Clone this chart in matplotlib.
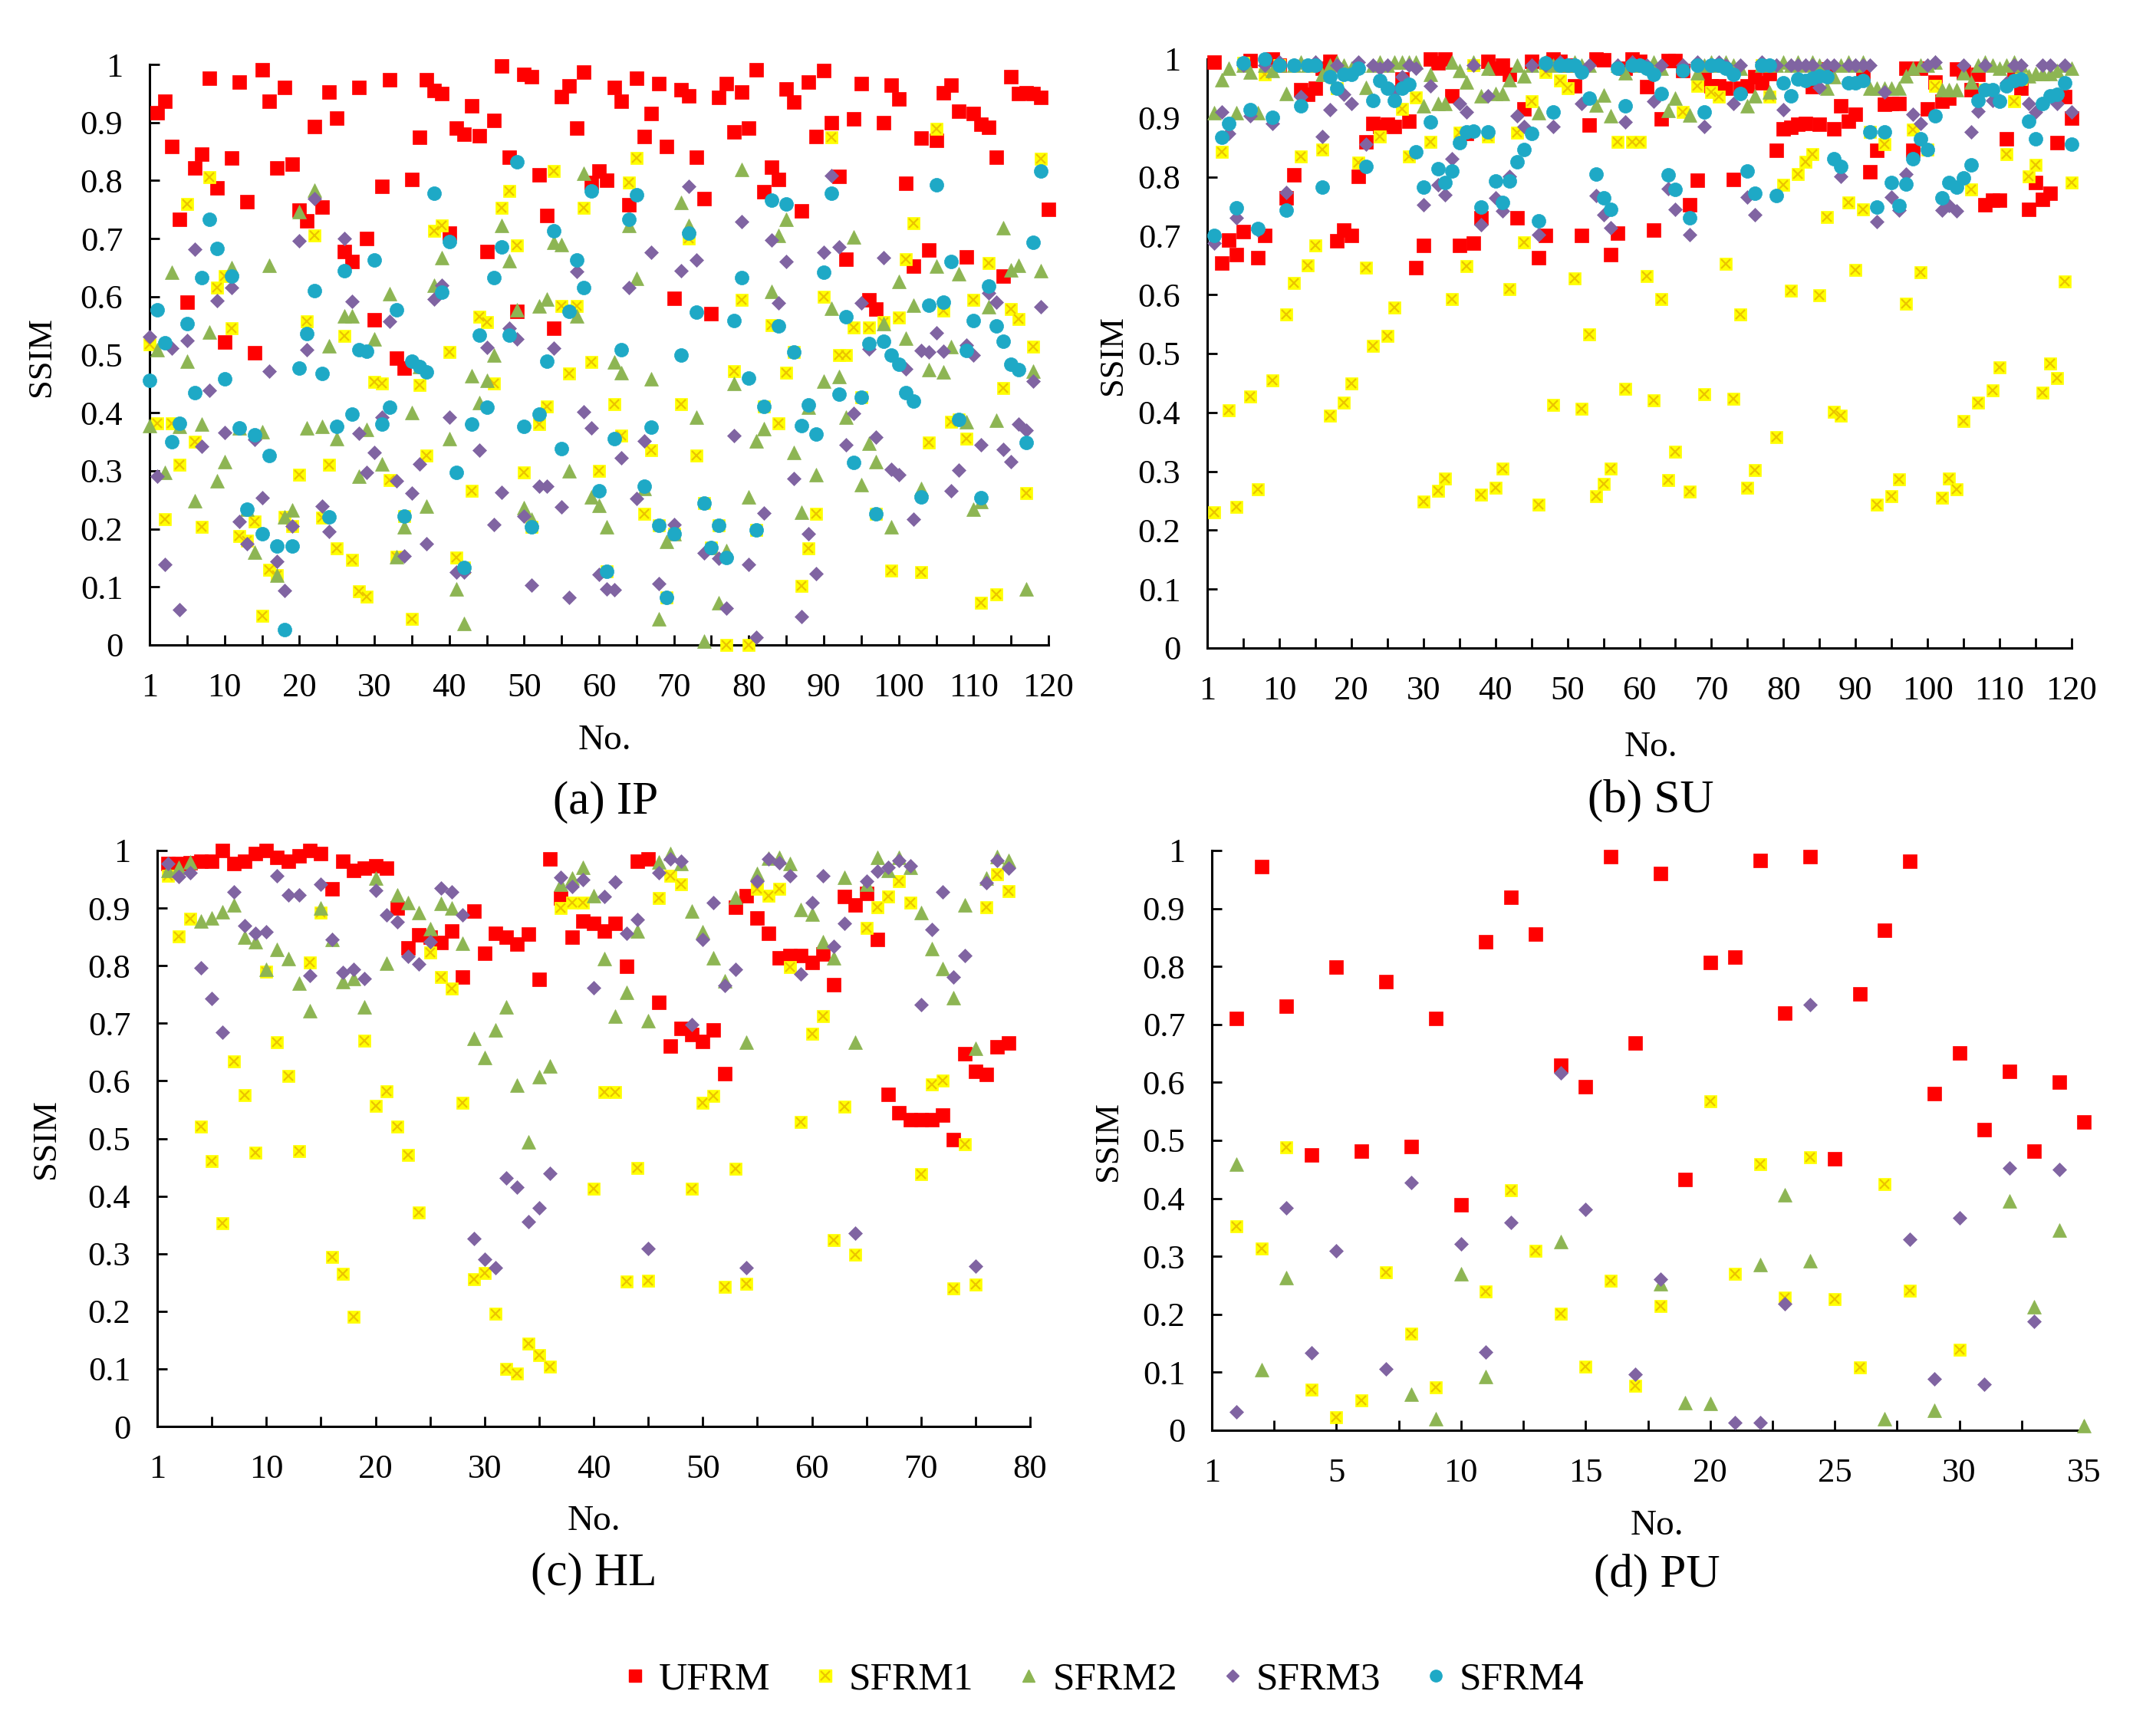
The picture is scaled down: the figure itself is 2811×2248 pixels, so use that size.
import numpy as np
import matplotlib
matplotlib.use("Agg")
import matplotlib.pyplot as plt
from matplotlib.lines import Line2D

plt.rcParams['font.family'] = 'serif'
plt.rcParams['font.serif'] = ['Liberation Serif', 'Times New Roman', 'DejaVu Serif']

series_names = ["UFRM", "SFRM1", "SFRM2", "SFRM3", "SFRM4"]
tick_labels_y = ["0", "0.1", "0.2", "0.3", "0.4", "0.5", "0.6", "0.7", "0.8", "0.9", "1"]

# ---------------- (a) IP ----------------
ip_ufrm_x = list(range(1, 121))
ip_sfrm_x = list(range(0, 120))
ip_ufrm = [0.917, 0.937, 0.858, 0.733, 0.59, 0.822, 0.845, 0.976, 0.787, 0.522,
           0.839, 0.97, 0.763, 0.503, 0.991, 0.937, 0.822, 0.96, 0.828, 0.749,
           0.73, 0.893, 0.754, 0.953, 0.908, 0.678, 0.66, 0.96, 0.70, 0.56,
           0.79, 0.974, 0.494, 0.477, 0.802, 0.875, 0.974, 0.955, 0.95, 0.71,
           0.891, 0.88, 0.929, 0.877, 0.678, 0.904, 0.997, 0.84, 0.575, 0.983,
           0.979, 0.81, 0.74, 0.546, 0.945, 0.963, 0.89, 0.987, 0.796, 0.816,
           0.80, 0.96, 0.937, 0.758, 0.976, 0.876, 0.915, 0.967, 0.858, 0.597,
           0.956, 0.946, 0.84, 0.769, 0.571, 0.943, 0.967, 0.884, 0.953, 0.891,
           0.991, 0.781, 0.823, 0.802, 0.958, 0.935, 0.748, 0.97, 0.876, 0.99,
           0.90, 0.807, 0.665, 0.906, 0.967, 0.595, 0.578, 0.90, 0.964, 0.941,
           0.795, 0.653, 0.873, 0.68, 0.869, 0.951, 0.964, 0.92, 0.668, 0.915,
           0.897, 0.892, 0.84, 0.635, 0.979, 0.95, 0.951, 0.95, 0.943, 0.75]
ip_sfrm1 = [0.518, 0.382, 0.217, 0.382, 0.31, 0.759, 0.35, 0.204, 0.806, 0.615,
            0.636, 0.546, 0.187, 0.179, 0.213, 0.05, 0.13, 0.12, 0.22, 0.205,
            0.293, 0.558, 0.706, 0.219, 0.31, 0.166, 0.532, 0.146, 0.092, 0.083,
            0.453, 0.45, 0.284, 0.152, 0.222, 0.045, 0.448, 0.326, 0.714, 0.723,
            0.505, 0.151, 0.134, 0.265, 0.565, 0.556, 0.45, 0.753, 0.782, 0.688,
            0.297, 0.203, 0.381, 0.411, 0.816, 0.584, 0.468, 0.584, 0.753, 0.487,
            0.30, 0.127, 0.415, 0.36, 0.797, 0.839, 0.226, 0.335, 0.206, 0.082,
            0.192, 0.415, 0.70, 0.326, 0.245, 0.168, 0.206, 0.0, 0.472, 0.595,
            0.0, 0.198, 0.411, 0.551, 0.382, 0.469, 0.505, 0.102, 0.167, 0.226,
            0.60, 0.875, 0.50, 0.499, 0.547, 0.427, 0.547, 0.226, 0.556, 0.128,
            0.564, 0.665, 0.727, 0.126, 0.349, 0.889, 0.576, 0.385, 0.389, 0.356,
            0.594, 0.073, 0.658, 0.087, 0.442, 0.578, 0.561, 0.262, 0.514, 0.838]
ip_sfrm2 = [0.378, 0.509, 0.297, 0.642, 0.376, 0.489, 0.249, 0.38, 0.539, 0.283,
            0.316, 0.65, 0.374, 0.234, 0.16, 0.367, 0.654, 0.12, 0.22, 0.233,
            0.747, 0.374, 0.784, 0.376, 0.515, 0.356, 0.567, 0.567, 0.29, 0.371,
            0.527, 0.312, 0.605, 0.152, 0.203, 0.40, 0.48, 0.239, 0.619, 0.667,
            0.356, 0.097, 0.037, 0.464, 0.418, 0.456, 0.499, 0.723, 0.662, 0.577,
            0.236, 0.217, 0.584, 0.596, 0.693, 0.69, 0.30, 0.567, 0.813, 0.255,
            0.241, 0.203, 0.487, 0.469, 0.722, 0.631, 0.269, 0.458, 0.045, 0.178,
            0.192, 0.762, 0.722, 0.392, 0.006, 0.168, 0.073, 0.163, 0.451, 0.819,
            0.255, 0.351, 0.373, 0.609, 0.705, 0.733, 0.331, 0.229, 0.41, 0.293,
            0.455, 0.58, 0.463, 0.392, 0.703, 0.276, 0.347, 0.316, 0.553, 0.203,
            0.626, 0.528, 0.585, 0.269, 0.474, 0.653, 0.47, 0.514, 0.64, 0.385,
            0.234, 0.247, 0.583, 0.387, 0.719, 0.646, 0.654, 0.097, 0.472, 0.644]
ip_sfrm3 = [0.531, 0.291, 0.139, 0.511, 0.061, 0.525, 0.681, 0.342, 0.439, 0.593,
            0.366, 0.615, 0.213, 0.175, 0.354, 0.253, 0.472, 0.144, 0.094, 0.205,
            0.696, 0.508, 0.769, 0.239, 0.196, 0.376, 0.70, 0.592, 0.364, 0.297,
            0.331, 0.392, 0.557, 0.283, 0.153, 0.262, 0.312, 0.175, 0.596, 0.62,
            0.392, 0.125, 0.125, 0.381, 0.336, 0.513, 0.208, 0.263, 0.546, 0.527,
            0.222, 0.103, 0.274, 0.274, 0.511, 0.238, 0.082, 0.643, 0.401, 0.374,
            0.121, 0.097, 0.095, 0.322, 0.615, 0.252, 0.352, 0.677, 0.106, 0.082,
            0.208, 0.644, 0.79, 0.663, 0.158, 0.168, 0.149, 0.064, 0.361, 0.729,
            0.139, 0.013, 0.227, 0.698, 0.589, 0.66, 0.287, 0.049, 0.192, 0.123,
            0.677, 0.809, 0.686, 0.345, 0.399, 0.589, 0.51, 0.358, 0.667, 0.302,
            0.293, 0.476, 0.217, 0.507, 0.505, 0.538, 0.506, 0.266, 0.301, 0.517,
            0.50, 0.345, 0.606, 0.59, 0.337, 0.316, 0.381, 0.37, 0.455, 0.583]
ip_sfrm4 = [0.456, 0.577, 0.52, 0.35, 0.382, 0.553, 0.435, 0.633, 0.733, 0.683,
            0.459, 0.636, 0.374, 0.234, 0.362, 0.191, 0.326, 0.17, 0.026, 0.17,
            0.477, 0.536, 0.61, 0.468, 0.22, 0.376, 0.645, 0.397, 0.509, 0.506,
            0.663, 0.381, 0.409, 0.577, 0.222, 0.489, 0.48, 0.47, 0.778, 0.608,
            0.695, 0.297, 0.134, 0.381, 0.534, 0.409, 0.633, 0.686, 0.534, 0.832,
            0.376, 0.203, 0.397, 0.489, 0.714, 0.338, 0.575, 0.663, 0.615, 0.782,
            0.265, 0.127, 0.356, 0.508, 0.733, 0.776, 0.274, 0.375, 0.206, 0.082,
            0.192, 0.50, 0.71, 0.573, 0.245, 0.168, 0.206, 0.151, 0.559, 0.633,
            0.46, 0.198, 0.411, 0.766, 0.549, 0.76, 0.505, 0.378, 0.413, 0.363,
            0.642, 0.778, 0.432, 0.565, 0.314, 0.427, 0.519, 0.226, 0.523, 0.50,
            0.483, 0.435, 0.42, 0.255, 0.585, 0.792, 0.59, 0.66, 0.389, 0.507,
            0.559, 0.253, 0.618, 0.55, 0.523, 0.483, 0.474, 0.349, 0.694, 0.816]

# ---------------- (b) SU ----------------
su_x = list(range(1, 121))
su_ufrm = [0.995, 0.654, 0.693, 0.668, 0.707, 0.998, 0.663, 0.70, 1.0, 0.99,
           0.764, 0.803, 0.948, 0.94, 0.951, 0.985, 0.996, 0.691, 0.71, 0.70,
           0.801, 0.86, 0.891, 0.886, 0.889, 0.885, 0.966, 0.894, 0.646, 0.683,
           1.0, 0.993, 1.0, 0.937, 0.683, 0.874, 0.688, 0.73, 0.996, 0.985,
           0.989, 0.974, 0.73, 0.915, 0.996, 0.663, 0.70, 1.0, 0.996, 0.989,
           0.955, 0.701, 0.888, 1.0, 0.999, 0.668, 0.705, 0.985, 1.0, 0.996,
           0.953, 0.71, 0.899, 0.998, 0.998, 0.98, 0.753, 0.794, 0.966, 0.955,
           0.954, 0.951, 0.795, 0.951, 0.955, 0.97, 0.959, 0.975, 0.845, 0.882,
           0.884, 0.889, 0.891, 0.953, 0.889, 0.983, 0.882, 0.92, 0.895, 0.906,
           0.975, 0.809, 0.845, 0.923, 0.925, 0.925, 0.985, 0.845, 0.985, 0.915,
           0.961, 0.929, 0.934, 0.983, 0.978, 0.948, 0.974, 0.753, 0.76, 0.76,
           0.865, 0.981, 0.951, 0.745, 0.79, 0.762, 0.772, 0.858, 0.936, 0.90]
su_sfrm1 = [0.23, 0.843, 0.403, 0.24, 0.993, 0.427, 0.27, 0.974, 0.455, 0.99,
            0.566, 0.62, 0.835, 0.65, 0.684, 0.846, 0.395, 0.951, 0.417, 0.449,
            0.824, 0.646, 0.513, 0.869, 0.53, 0.578, 0.915, 0.835, 0.935, 0.249,
            0.86, 0.267, 0.288, 0.592, 0.875, 0.648, 0.99, 0.261, 0.869, 0.272,
            0.305, 0.609, 0.875, 0.689, 0.929, 0.243, 0.978, 0.413, 0.963, 0.951,
            0.628, 0.406, 0.533, 0.258, 0.279, 0.305, 0.859, 0.44, 0.859, 0.859,
            0.631, 0.421, 0.593, 0.285, 0.333, 0.91, 0.266, 0.955, 0.431, 0.944,
            0.936, 0.652, 0.423, 0.566, 0.272, 0.302, 0.99, 0.936, 0.358, 0.787,
            0.607, 0.805, 0.825, 0.839, 0.599, 0.732, 0.401, 0.395, 0.757, 0.642,
            0.745, 0.876, 0.243, 0.856, 0.258, 0.287, 0.584, 0.88, 0.638, 0.846,
            0.955, 0.255, 0.288, 0.27, 0.386, 0.778, 0.417, 0.948, 0.438, 0.476,
            0.839, 0.929, 0.966, 0.801, 0.82, 0.433, 0.483, 0.458, 0.622, 0.79]
su_sfrm2 = [0.909, 0.965, 0.985, 0.909, 0.99, 0.978, 0.909, 0.99, 0.98, 0.99,
            0.942, 0.99, 0.995, 0.99, 0.995, 0.974, 0.99, 0.995, 0.99, 0.985,
            0.99, 0.952, 0.99, 0.995, 0.99, 0.995, 0.995, 0.995, 0.995, 0.92,
            0.974, 0.924, 0.924, 0.995, 0.98, 0.961, 0.995, 0.937, 0.985, 0.942,
            0.942, 0.965, 0.99, 0.972, 0.99, 0.909, 0.995, 0.99, 0.995, 0.99,
            0.995, 0.99, 0.99, 0.922, 0.939, 0.903, 0.99, 0.976, 0.995, 0.99,
            0.99, 0.995, 0.985, 0.913, 0.933, 0.99, 0.905, 0.976, 0.99, 0.995,
            0.99, 0.995, 0.99, 0.985, 0.92, 0.937, 0.99, 0.944, 0.99, 0.995,
            0.99, 0.995, 0.99, 0.995, 0.99, 0.95, 0.97, 0.99, 0.995, 0.99,
            0.995, 0.95, 0.95, 0.95, 0.95, 0.95, 0.972, 0.985, 0.99, 0.99,
            0.995, 0.948, 0.948, 0.948, 0.976, 0.961, 0.99, 0.995, 0.99, 0.985,
            0.99, 0.995, 0.99, 0.972, 0.975, 0.975, 0.975, 0.98, 0.99, 0.985]
su_sfrm3 = [0.687, 0.91, 0.874, 0.73, 0.99, 0.903, 0.709, 0.99, 0.891, 0.995,
            0.773, 0.99, 0.936, 0.99, 0.995, 0.869, 0.914, 0.99, 0.94, 0.925,
            0.995, 0.855, 0.99, 0.985, 0.99, 0.944, 0.97, 0.99, 0.985, 0.753,
            0.955, 0.787, 0.77, 0.831, 0.925, 0.91, 0.99, 0.719, 0.938, 0.764,
            0.742, 0.801, 0.903, 0.885, 0.99, 0.702, 0.99, 0.885, 0.995, 0.99,
            0.99, 0.925, 0.99, 0.768, 0.736, 0.714, 0.99, 0.893, 0.995, 0.99,
            0.99, 0.929, 0.99, 0.78, 0.745, 0.99, 0.702, 0.995, 0.885, 0.99,
            0.995, 0.99, 0.925, 0.99, 0.766, 0.736, 0.995, 0.99, 0.99, 0.914,
            0.99, 0.99, 0.99, 0.99, 0.952, 0.99, 0.99, 0.801, 0.99, 0.99,
            0.99, 0.99, 0.724, 0.944, 0.766, 0.743, 0.805, 0.906, 0.891, 0.99,
            0.995, 0.743, 0.751, 0.742, 0.99, 0.876, 0.912, 0.99, 0.93, 0.93,
            0.96, 0.99, 0.99, 0.925, 0.91, 0.99, 0.99, 0.925, 0.99, 0.91]
su_sfrm4 = [0.70, 0.867, 0.891, 0.748, 0.993, 0.914, 0.712, 1.0, 0.901, 0.99,
            0.743, 0.99, 0.921, 0.99, 0.99, 0.783, 0.97, 0.951, 0.974, 0.974,
            0.985, 0.818, 0.93, 0.963, 0.951, 0.93, 0.951, 0.957, 0.843, 0.783,
            0.893, 0.814, 0.79, 0.81, 0.858, 0.876, 0.878, 0.749, 0.876, 0.793,
            0.757, 0.793, 0.826, 0.846, 0.874, 0.725, 0.993, 0.91, 0.99, 0.99,
            0.99, 0.978, 0.933, 0.805, 0.764, 0.745, 0.985, 0.92, 0.99, 0.99,
            0.985, 0.974, 0.942, 0.803, 0.778, 0.98, 0.73, 0.99, 0.91, 0.99,
            0.99, 0.985, 0.974, 0.942, 0.81, 0.772, 0.99, 0.99, 0.768, 0.959,
            0.938, 0.966, 0.964, 0.968, 0.972, 0.97, 0.831, 0.818, 0.96, 0.96,
            0.963, 0.876, 0.749, 0.876, 0.79, 0.751, 0.788, 0.831, 0.865, 0.846,
            0.903, 0.764, 0.79, 0.783, 0.798, 0.82, 0.93, 0.948, 0.948, 0.929,
            0.955, 0.963, 0.966, 0.895, 0.865, 0.925, 0.938, 0.94, 0.96, 0.855]

# ---------------- (c) HL ----------------
hl_x = list(range(1, 79))
hl_ufrm = [0.977, 0.977, 0.979, 0.981, 0.981, 1.0, 0.977, 0.981, 0.995, 1.0,
           0.988, 0.981, 0.991, 1.0, 0.995, 0.933, 0.981, 0.965, 0.969, 0.974,
           0.969, 0.90, 0.831, 0.853, 0.849, 0.84, 0.86, 0.78, 0.895, 0.822,
           0.856, 0.85, 0.837, 0.855, 0.776, 0.986, 0.918, 0.849, 0.877, 0.873,
           0.86, 0.874, 0.799, 0.981, 0.985, 0.736, 0.661, 0.691, 0.68, 0.668,
           0.689, 0.612, 0.902, 0.922, 0.883, 0.856, 0.814, 0.818, 0.817, 0.806,
           0.82, 0.767, 0.92, 0.906, 0.925, 0.845, 0.576, 0.545, 0.532, 0.532,
           0.532, 0.541, 0.498, 0.647, 0.616, 0.611, 0.659, 0.666]
hl_sfrm1 = [0.956, 0.851, 0.881, 0.521, 0.461, 0.353, 0.634, 0.575, 0.476, 0.789,
            0.667, 0.608, 0.478, 0.805, 0.892, 0.294, 0.265, 0.19, 0.67, 0.557,
            0.582, 0.521, 0.472, 0.372, 0.823, 0.78, 0.76, 0.562, 0.256, 0.266,
            0.196, 0.10, 0.092, 0.144, 0.124, 0.104, 0.90, 0.909, 0.909, 0.413,
            0.58, 0.58, 0.252, 0.449, 0.253, 0.918, 0.956, 0.941, 0.413, 0.562,
            0.574, 0.243, 0.447, 0.248, 0.933, 0.922, 0.933, 0.797, 0.528, 0.682,
            0.712, 0.324, 0.555, 0.298, 0.866, 0.902, 0.92, 0.947, 0.909, 0.438,
            0.594, 0.601, 0.24, 0.49, 0.247, 0.902, 0.959, 0.929]
hl_sfrm2 = [0.965, 0.971, 0.98, 0.878, 0.883, 0.893, 0.906, 0.85, 0.841, 0.793,
            0.828, 0.812, 0.77, 0.722, 0.90, 0.845, 0.772, 0.777, 0.728, 0.952,
            0.804, 0.923, 0.91, 0.892, 0.864, 0.908, 0.90, 0.839, 0.674, 0.641,
            0.689, 0.728, 0.593, 0.494, 0.607, 0.626, 0.941, 0.952, 0.971, 0.922,
            0.812, 0.712, 0.753, 0.86, 0.704, 0.98, 0.995, 0.977, 0.895, 0.859,
            0.813, 0.774, 0.919, 0.667, 0.96, 0.987, 0.988, 0.978, 0.897, 0.889,
            0.841, 0.814, 0.954, 0.667, 0.941, 0.988, 0.965, 0.988, 0.971, 0.892,
            0.829, 0.795, 0.745, 0.906, 0.657, 0.952, 0.99, 0.983]
hl_sfrm3 = [0.977, 0.955, 0.962, 0.796, 0.743, 0.684, 0.928, 0.869, 0.856, 0.859,
            0.956, 0.923, 0.923, 0.783, 0.941, 0.845, 0.788, 0.793, 0.778, 0.931,
            0.888, 0.876, 0.816, 0.803, 0.841, 0.935, 0.928, 0.888, 0.326, 0.29,
            0.275, 0.432, 0.416, 0.356, 0.38, 0.439, 0.953, 0.937, 0.949, 0.762,
            0.92, 0.946, 0.856, 0.88, 0.309, 0.962, 0.985, 0.982, 0.698, 0.845,
            0.909, 0.766, 0.793, 0.275, 0.947, 0.985, 0.979, 0.956, 0.785, 0.909,
            0.956, 0.833, 0.873, 0.336, 0.947, 0.964, 0.971, 0.983, 0.974, 0.732,
            0.863, 0.928, 0.78, 0.818, 0.278, 0.944, 0.983, 0.969]

# ---------------- (d) PU ----------------
pu_x = list(range(1, 36))
pu_ufrm = [0.71, 0.972, 0.731, 0.475, 0.799, 0.482, 0.774, 0.49, 0.71, 0.389,
           0.843, 0.919, 0.856, 0.63, 0.592, 0.989, 0.668, 0.96, 0.433, 0.807,
           0.816, 0.983, 0.719, 0.989, 0.468, 0.752, 0.863, 0.981, 0.581, 0.651,
           0.519, 0.619, 0.482, 0.601, 0.532]
pu_sfrm1 = [0.352, 0.314, 0.488, 0.07, 0.023, 0.052, 0.272, 0.167, 0.074, None,
            0.239, 0.414, 0.31, 0.201, 0.11, 0.258, 0.077, 0.214, None, 0.567,
            0.27, 0.459, 0.229, 0.471, 0.226, 0.108, 0.424, 0.241, None, 0.139,
            None, None, None, None, None]
pu_sfrm2 = [0.459, 0.104, 0.263, None, None, None, None, 0.062, 0.02, 0.27,
            0.093, None, None, 0.325, None, None, None, 0.252, 0.048, 0.046,
            None, 0.286, 0.406, 0.292, None, None, 0.02, None, 0.034, None,
            None, 0.396, 0.213, 0.345, 0.008]
pu_sfrm3 = [0.032, None, 0.383, 0.133, 0.309, None, 0.106, 0.427, None, 0.321,
            0.135, 0.359, None, 0.617, 0.381, None, 0.097, 0.26, None, None,
            0.013, 0.013, 0.218, 0.734, None, None, None, 0.33, 0.089, 0.366,
            0.08, 0.453, 0.188, 0.45, None]

# ---------------- styling ----------------
RED = "#FF0000"
YEL = "#FFFF00"
YEL_X = "#EBC400"
GRN = "#8DB553"
PUR = "#8064A2"
TEAL = "#1EA9C6"

FS_TICK = 32
FS_SSIM = 32
FS_NO = 34
FS_CAP = 44
FS_LEG = 37

W, H = 2811, 2248
fig = plt.figure(figsize=(W / 100, H / 100), dpi=100)


def px_axes(l, r, t, b):
    return [l / W, 1 - b / H, (r - l) / W, (b - t) / H]


def draw(ax, x, y, kind):
    x = np.asarray(x, dtype=float)
    y = np.asarray(np.array(y, dtype=object), dtype=float)
    common = dict(linestyle="none", clip_on=False)
    if kind == 0:
        ax.plot(x, y, marker="s", ms=13, mfc=RED, mec=RED, mew=0.5, zorder=3, **common)
    elif kind == 1:
        ax.plot(x, y, marker="s", ms=12, mfc=YEL, mec=YEL, mew=0.5, zorder=4, **common)
        ax.plot(x, y, marker="x", ms=9, mfc=YEL_X, mec=YEL_X, mew=1.6, zorder=4.1, **common)
    elif kind == 2:
        ax.plot(x, y, marker="^", ms=13.5, mfc=GRN, mec=GRN, mew=0.5, zorder=5, **common)
    elif kind == 3:
        ax.plot(x, y, marker="D", ms=9, mfc=PUR, mec=PUR, mew=0.5, zorder=6, **common)
    elif kind == 4:
        ax.plot(x, y, marker="o", ms=13, mfc=TEAL, mec=TEAL, mew=0.5, zorder=7, **common)


def style_axes(ax, xmax, major_step, minor_step, labels):
    ax.set_xlim(0, xmax)
    ax.set_ylim(0, 1)
    ax.spines["top"].set_visible(False)
    ax.spines["right"].set_visible(False)
    for s in ("left", "bottom"):
        ax.spines[s].set_linewidth(2.2)
        ax.spines[s].set_color("black")
    majors = np.arange(0, xmax + 0.001, major_step)
    ax.set_xticks(majors)
    ax.set_xticklabels(labels)
    ax.set_xticks(np.arange(0, xmax + 0.001, minor_step), minor=True)
    ax.set_yticks(np.arange(0, 1.0001, 0.1))
    ax.set_yticklabels(tick_labels_y)
    ax.tick_params(axis="both", which="both", direction="in", length=9.5, width=2.0,
                   labelsize=FS_TICK, colors="black")
    ax.tick_params(axis="y", which="major", pad=25)
    ax.tick_params(axis="x", which="major", pad=26)
    ax.patch.set_alpha(0)


# panel a
ax_a = fig.add_axes(px_axes(195, 1367, 84, 841))
draw(ax_a, ip_ufrm_x, ip_ufrm, 0)
draw(ax_a, ip_sfrm_x, ip_sfrm1, 1)
draw(ax_a, ip_sfrm_x, ip_sfrm2, 2)
draw(ax_a, ip_sfrm_x, ip_sfrm3, 3)
draw(ax_a, ip_sfrm_x, ip_sfrm4, 4)
style_axes(ax_a, 120, 10, 5, ["1"] + [str(v) for v in range(10, 121, 10)])

# panel b
ax_b = fig.add_axes(px_axes(1574, 2701, 77, 845))
draw(ax_b, su_x, su_ufrm, 0)
draw(ax_b, su_x, su_sfrm1, 1)
draw(ax_b, su_x, su_sfrm2, 2)
draw(ax_b, su_x, su_sfrm3, 3)
draw(ax_b, su_x, su_sfrm4, 4)
style_axes(ax_b, 120, 10, 5, ["1"] + [str(v) for v in range(10, 121, 10)])

# panel c
ax_c = fig.add_axes(px_axes(205, 1343, 1109, 1860))
draw(ax_c, hl_x, hl_ufrm, 0)
draw(ax_c, hl_x, hl_sfrm1, 1)
draw(ax_c, hl_x, hl_sfrm2, 2)
draw(ax_c, hl_x, hl_sfrm3, 3)
style_axes(ax_c, 80, 10, 5, ["1"] + [str(v) for v in range(10, 81, 10)])

# panel d
ax_d = fig.add_axes(px_axes(1580, 2717, 1109, 1865))
draw(ax_d, pu_x, pu_ufrm, 0)
draw(ax_d, pu_x, pu_sfrm1, 1)
draw(ax_d, pu_x, pu_sfrm2, 2)
draw(ax_d, pu_x, pu_sfrm3, 3)
style_axes(ax_d, 35, 5, 2.5, ["1"] + [str(v) for v in range(5, 36, 5)])


def ftext(xp, yp, s, size, rot=0):
    fig.text(xp / W, 1 - yp / H, s, fontsize=size, ha="center", va="center", rotation=rot)


# axis labels and captions
ftext(54, 465, "SSIM", FS_SSIM, 90)
ftext(1451, 463, "SSIM", FS_SSIM, 90)
ftext(60, 1485, "SSIM", FS_SSIM, 90)
ftext(1445, 1488, "SSIM", FS_SSIM, 90)

ftext(788, 966, "No.", FS_NO)
ftext(2152, 975, "No.", FS_NO)
ftext(774, 1984, "No.", FS_NO)
ftext(2160, 1990, "No.", FS_NO)

ftext(790, 1046, "(a) IP", FS_CAP)
ftext(2152, 1044, "(b) SU", FS_CAP)
ftext(774, 2052, "(c) HL", FS_CAP)
ftext(2160, 2054, "(d) PU", FS_CAP)

# legend
handles = [
    Line2D([], [], linestyle="none", marker="s", ms=11, mfc=RED, mec=RED),
    (Line2D([], [], linestyle="none", marker="s", ms=11, mfc=YEL, mec=YEL),
     Line2D([], [], linestyle="none", marker="x", ms=8, mec=YEL_X, mew=1.6)),
    Line2D([], [], linestyle="none", marker="^", ms=12, mfc=GRN, mec=GRN),
    Line2D([], [], linestyle="none", marker="D", ms=8, mfc=PUR, mec=PUR),
    Line2D([], [], linestyle="none", marker="o", ms=11, mfc=TEAL, mec=TEAL),
]
fig.legend(handles, series_names, loc="center", bbox_to_anchor=(1435 / W, 1 - 2190 / H),
           ncol=5, frameon=False, fontsize=FS_LEG, handletextpad=0.15,
           columnspacing=0.95, handlelength=0.9, borderaxespad=0)

fig.savefig("out.png", dpi=100, facecolor="white")
